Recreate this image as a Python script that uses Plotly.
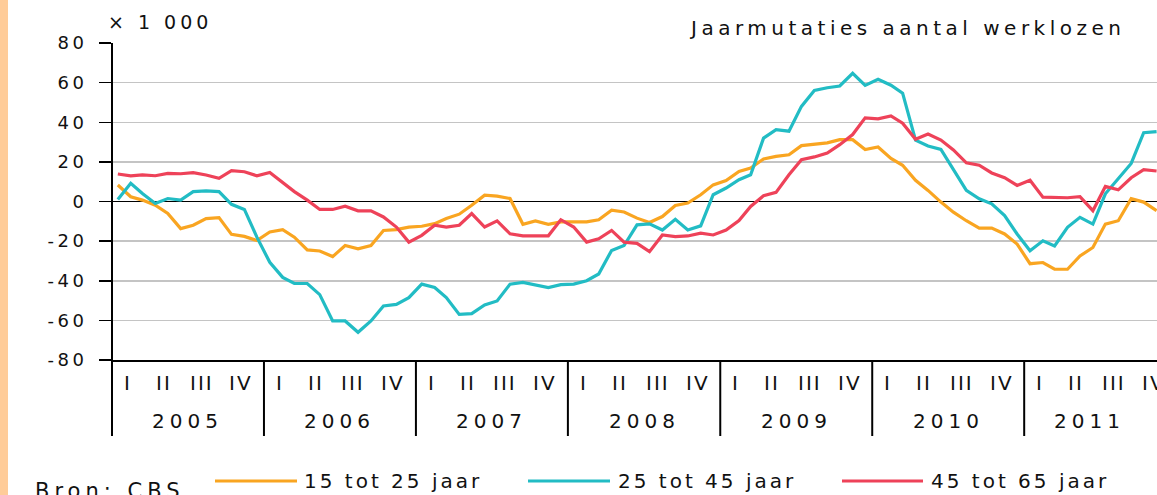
import pandas as pd
import plotly.graph_objects as go

# ---------------- data (x 1 000, year-on-year change) ----------------
months = pd.date_range("2005-01-01", periods=83, freq="MS") + pd.Timedelta(days=14)

series_names = ["15 tot 25 jaar", "25 tot 45 jaar", "45 tot 65 jaar"]

age_15_25 = [8.3, 2.4, 0.7, -1.9, -6.0, -13.7, -12.0, -8.6, -8.1, -16.6, -17.6, -19.7,
             -15.4, -14.2, -18.0, -24.4, -25.0, -27.8, -22.2, -23.9, -22.2, -14.6, -14.2, -12.9,
             -12.5, -11.2, -8.6, -6.4, -1.9, 3.2, 2.7, 1.5, -11.5, -9.8, -11.5, -10.3,
             -10.3, -10.3, -9.2, -4.4, -5.3, -8.4, -10.6, -7.6, -2.0, -0.8, 3.4, 8.4,
             10.6, 15.2, 16.9, 21.5, 22.8, 23.6, 28.2, 28.7, 29.6, 31.2, 31.2, 26.2,
             27.5, 21.7, 18.3, 10.7, 5.6, -0.3, -5.4, -9.7, -13.4, -13.4, -16.4, -21.5,
             -31.4, -30.8, -34.2, -34.2, -27.5, -23.2, -11.4, -9.7, 1.4, -0.3, -4.6]

age_25_45 = [1.0, 9.2, 4.0, -1.0, 1.5, 0.7, 5.0, 5.4, 5.0, -1.4, -4.0, -18.0,
             -30.7, -38.3, -41.4, -41.4, -47.0, -60.3, -60.3, -66.0, -60.3, -52.7, -51.9, -48.5,
             -41.7, -43.4, -48.5, -57.0, -56.6, -52.2, -50.2, -41.7, -40.8, -42.0, -43.4, -42.0,
             -41.7, -40.0, -36.6, -24.7, -22.2, -11.8, -11.3, -14.4, -9.0, -14.4, -12.3, 3.4,
             6.8, 11.0, 13.5, 32.0, 36.3, 35.5, 48.0, 56.0, 57.4, 58.3, 64.7, 58.6,
             61.7, 58.7, 54.7, 31.0, 28.0, 26.3, 15.8, 5.6, 1.4, -1.2, -7.1, -16.4,
             -24.9, -19.8, -22.4, -13.0, -8.0, -11.4, 3.9, 11.5, 19.2, 34.7, 35.3]

age_45_65 = [13.9, 12.9, 13.4, 13.0, 14.2, 14.0, 14.6, 13.4, 11.7, 15.6, 15.0, 13.0,
             14.6, 9.5, 5.0, 0.7, -4.0, -4.0, -2.4, -4.7, -4.7, -7.8, -12.9, -20.5,
             -17.1, -12.0, -12.9, -12.0, -6.1, -12.9, -9.8, -16.3, -17.3, -17.3, -17.3, -9.2,
             -12.9, -20.5, -18.8, -14.6, -20.5, -21.1, -25.3, -16.9, -17.7, -17.4, -16.0, -16.9,
             -14.4, -9.6, -2.5, 2.9, 4.6, 13.5, 21.1, 22.5, 24.5, 28.7, 33.8, 42.2,
             41.7, 43.2, 39.5, 31.4, 34.1, 31.0, 26.0, 19.5, 18.3, 14.4, 12.0, 8.1,
             10.7, 2.2, 2.2, 1.9, 2.5, -4.6, 7.6, 5.9, 12.0, 16.1, 15.4]

years = [2005, 2006, 2007, 2008, 2009, 2010, 2011]
quarter_labels = ["I", "II", "III", "IV"]
y_ticks = [80, 60, 40, 20, 0, -20, -40, -60, -80]

title_text = "Jaarmutaties aantal werklozen"
unit_text = "× 1 000"
source_text = "Bron: CBS"

# ---------------- style ----------------
colors = ["#F9A521", "#22BCC4", "#EE4259"]
FONT = "DejaVu Sans"
TXT = "#111111"


def sp(t, ls):
    return f'<span style="letter-spacing:{ls}px">{t}</span>'


def py(p):  # pixel row -> paper y (plot area 43..360)
    return (360 - p) / 317.0


def px(p):  # pixel col -> paper x (plot area 112..1157)
    return (p - 112) / 1045.0


fig = go.Figure()
for name, vals, col in zip(series_names, [age_15_25, age_25_45, age_45_65], colors):
    fig.add_trace(go.Scatter(x=months, y=vals, mode="lines", name=name,
                             line=dict(color=col, width=3.2), showlegend=False,
                             hoverinfo="skip"))

shapes = []
annotations = []

# left peach strip
shapes.append(dict(type="rect", xref="paper", yref="paper", x0=px(0), x1=px(8),
                   y0=py(495), y1=py(0), fillcolor="#FFCC99", line=dict(width=0),
                   layer="below"))
# y axis line (extends below into category area)
shapes.append(dict(type="line", xref="paper", yref="paper", x0=0, x1=0,
                   y0=py(436), y1=1, line=dict(color="black", width=2)))
# year separators
for y in years[1:]:
    shapes.append(dict(type="line", xref="x", yref="paper", x0=f"{y}-01-01", x1=f"{y}-01-01",
                       y0=py(436), y1=0, line=dict(color="black", width=2)))

# quarter labels and years
q_days = ["02-08", "05-05", "08-04", "11-08"]
for y in years:
    for q, d in zip(quarter_labels, q_days):
        annotations.append(dict(x=f"{y}-{d}", y=py(383), xref="x", yref="paper",
                                text=sp(q, 2), showarrow=False, xanchor="center",
                                yanchor="middle", font=dict(family=FONT, size=20, color=TXT)))
    xpos = f"{y}-07-02" if y != 2011 else "2011-06-08"
    annotations.append(dict(x=xpos, y=py(421), xref="x", yref="paper",
                            text=sp(str(y), 5), showarrow=False, xanchor="center",
                            yanchor="middle", font=dict(family=FONT, size=20, color=TXT)))

# unit and title
annotations.append(dict(x=px(106), y=py(22), xref="paper", yref="paper", text=sp(unit_text, 4),
                        showarrow=False, xanchor="left", yanchor="middle",
                        font=dict(family=FONT, size=19, color=TXT)))
annotations.append(dict(x=px(1127), y=py(28), xref="paper", yref="paper", text=sp(title_text, 4.5),
                        showarrow=False, xanchor="right", yanchor="middle",
                        font=dict(family=FONT, size=20, color=TXT)))

# source
annotations.append(dict(x=px(33), y=py(491), xref="paper", yref="paper", text=sp(source_text, 5),
                        showarrow=False, xanchor="left", yanchor="middle",
                        font=dict(family=FONT, size=21, color=TXT)))

# legend (manual)
leg_x = [(215, 297, 302), (528, 610, 616), (842, 923, 929)]
for (x0, x1, xt), name, col in zip(leg_x, series_names, colors):
    shapes.append(dict(type="line", xref="paper", yref="paper", x0=px(x0), x1=px(x1),
                       y0=py(481), y1=py(481), line=dict(color=col, width=3)))
    annotations.append(dict(x=px(xt), y=py(481), xref="paper", yref="paper", text=sp(name, 3),
                            showarrow=False, xanchor="left", yanchor="middle",
                            font=dict(family=FONT, size=20, color=TXT)))

fig.update_layout(
    width=1157, height=495,
    margin=dict(l=112, r=0, t=43, b=135, pad=0),
    paper_bgcolor="white", plot_bgcolor="white",
    shapes=shapes, annotations=annotations,
    showlegend=False,
    xaxis=dict(type="date", range=["2005-01-01", "2011-11-16"], showgrid=False,
               showticklabels=False, ticks="", zeroline=False,
               showline=True, linecolor="black", linewidth=1.5),
    yaxis=dict(range=[-80, 80], tickvals=y_ticks,
               ticktext=[sp(str(v), 3.5) for v in y_ticks],
               ticks="outside", ticklen=12, tickwidth=1.5, tickcolor="black",
               ticklabelstandoff=8,
               showgrid=True, gridcolor="#C4C4C4", gridwidth=1.5,
               zeroline=True, zerolinecolor="black", zerolinewidth=1.5,
               showline=False,
               tickfont=dict(family=FONT, size=18, color=TXT)),
)

fig.write_html("out.html", config={"displayModeBar": False, "staticPlot": True},
               post_script="document.body.style.margin='0px';document.body.style.overflow='hidden';")
